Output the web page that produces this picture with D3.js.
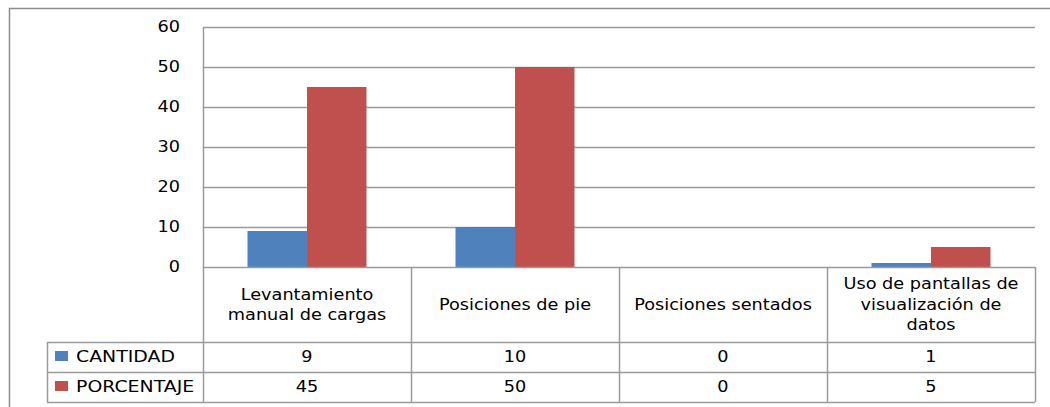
<!DOCTYPE html>
<html>
<head>
<meta charset="utf-8">
<script src="https://cdn.jsdelivr.net/npm/d3@7"></script>
<style>
  body { margin: 0; background: #fff; }
  text { font-family: "DejaVu Sans", sans-serif; font-size: 15px; fill: #000; }
</style>
</head>
<body>
<div id="chart"></div>
<script>
//begin: data
var categories = ["Levantamiento manual de cargas", "Posiciones de pie", "Posiciones sentados", "Uso de pantallas de visualización de datos"];
var headerLines = [["Levantamiento", "manual de cargas"], ["Posiciones de pie"], ["Posiciones sentados"], ["Uso de pantallas  de", "visualización de", "datos"]];
var seriesNames = ["CANTIDAD", "PORCENTAJE"];
var cantidad = [9, 10, 0, 1];
var porcentaje = [45, 50, 0, 5];
var yTicks = [0, 10, 20, 30, 40, 50, 60];
//end: data

//begin: layout conf.
var width = 1050, height = 407;
var plot = { left: 203, right: 1035, top: 27, bottom: 267 };
var headerBottom = 342, rowH = 30, legendLeft = 47;
var groupWidth = 119;
var stretch = 1.18;   // wide text like the original
var legendStretch = 1.26;
var colors = { CANTIDAD: "#4F81BD", PORCENTAJE: "#C0504D" };
var lineColor = "#9a9a9a";
//end: layout conf.

var series = [cantidad, porcentaje];

var svg = d3.select("#chart").append("svg")
  .attr("width", width)
  .attr("height", height);

// outer chart frame
svg.append("rect")
  .attr("x", 9.5).attr("y", 8.5)
  .attr("width", 1100).attr("height", 500)
  .attr("fill", "none")
  .attr("stroke", "#8c8c8c")
  .attr("stroke-width", 1.5);

var y = d3.scaleLinear().domain([0, 60]).range([plot.bottom, plot.top]);
var x0 = d3.scaleBand().domain(categories).range([plot.left, plot.right]).padding(0);
var x1 = d3.scaleBand().domain(seriesNames).range([0, groupWidth]).padding(0);
var groupOffset = (x0.bandwidth() - groupWidth) / 2;

// gridlines
svg.append("g")
  .selectAll("line")
  .data(yTicks.filter(function (d) { return d > 0; }))
  .enter().append("line")
  .attr("x1", plot.left).attr("x2", plot.right)
  .attr("y1", function (d) { return Math.round(y(d)) + 0.5; })
  .attr("y2", function (d) { return Math.round(y(d)) + 0.5; })
  .attr("stroke", lineColor)
  .attr("stroke-width", 1.5);

// bars
var groups = svg.append("g")
  .selectAll("g")
  .data(categories)
  .enter().append("g")
  .attr("transform", function (d) { return "translate(" + (x0(d) + groupOffset) + ",0)"; });

groups.selectAll("rect")
  .data(function (d, i) {
    return seriesNames.map(function (s, j) { return { key: s, value: series[j][i] }; });
  })
  .enter().append("rect")
  .filter(function (d) { return d.value > 0; })
  .attr("x", function (d) { return x1(d.key); })
  .attr("y", function (d) { return y(d.value); })
  .attr("width", x1.bandwidth())
  .attr("height", function (d) { return plot.bottom - y(d.value); })
  .attr("fill", function (d) { return colors[d.key]; });

// y axis
var yAxis = svg.append("g")
  .attr("transform", "translate(" + plot.left + ",0)")
  .call(d3.axisLeft(y).tickValues(yTicks).tickSize(0).tickPadding(0));
yAxis.select(".domain").remove();
yAxis.selectAll("text")
  .attr("x", null)
  .attr("transform", "translate(-23,0) scale(" + stretch + ",1)")
  .style("font-family", "DejaVu Sans, sans-serif")
  .style("font-size", "15px")
  .attr("fill", "#000");

svg.append("line")
  .attr("x1", plot.left + 0.5).attr("x2", plot.left + 0.5)
  .attr("y1", plot.top).attr("y2", plot.bottom)
  .attr("stroke", lineColor).attr("stroke-width", 1.5);

// data table
var table = svg.append("g").attr("stroke", lineColor).attr("stroke-width", 1.5);
var tableBottom = headerBottom + rowH * seriesNames.length;

// horizontal lines
table.append("line")
  .attr("x1", plot.left).attr("x2", plot.right)
  .attr("y1", plot.bottom + 0.5).attr("y2", plot.bottom + 0.5);
[headerBottom, headerBottom + rowH, tableBottom].forEach(function (yy) {
  table.append("line")
    .attr("x1", legendLeft).attr("x2", plot.right)
    .attr("y1", yy + 0.5).attr("y2", yy + 0.5);
});
// vertical lines
var colEdges = categories.map(function (c) { return x0(c); }).concat([plot.right]);
colEdges.forEach(function (xx) {
  table.append("line")
    .attr("x1", xx + 0.5).attr("x2", xx + 0.5)
    .attr("y1", plot.bottom).attr("y2", tableBottom);
});
table.append("line")
  .attr("x1", legendLeft + 0.5).attr("x2", legendLeft + 0.5)
  .attr("y1", headerBottom).attr("y2", tableBottom);

// header labels
var lineH = 20.5;
var headerMid = (plot.bottom + headerBottom) / 2;
categories.forEach(function (c, i) {
  var lines = headerLines[i];
  var cx = x0(c) + x0.bandwidth() / 2;
  lines.forEach(function (ln, k) {
    var yy = headerMid + (k - (lines.length - 1) / 2) * lineH;
    svg.append("text")
      .attr("transform", "translate(" + cx + "," + yy + ") scale(" + stretch + ",1)")
      .attr("text-anchor", "middle")
      .attr("dy", "0.35em")
      .text(ln);
  });
});

// rows: legend key + values
seriesNames.forEach(function (s, j) {
  var rowMid = headerBottom + rowH * j + rowH / 2;
  svg.append("rect")
    .attr("x", 55).attr("y", rowMid - 6)
    .attr("width", 13).attr("height", 10)
    .attr("fill", colors[s]);
  svg.append("text")
    .attr("transform", "translate(76," + rowMid + ") scale(" + legendStretch + ",1)")
    .attr("dy", "0.35em")
    .text(s);
  categories.forEach(function (c, i) {
    svg.append("text")
      .attr("transform", "translate(" + (x0(c) + x0.bandwidth() / 2) + "," + rowMid + ") scale(" + stretch + ",1)")
      .attr("text-anchor", "middle")
      .attr("dy", "0.35em")
      .text(series[j][i]);
  });
});
</script>
</body>
</html>
